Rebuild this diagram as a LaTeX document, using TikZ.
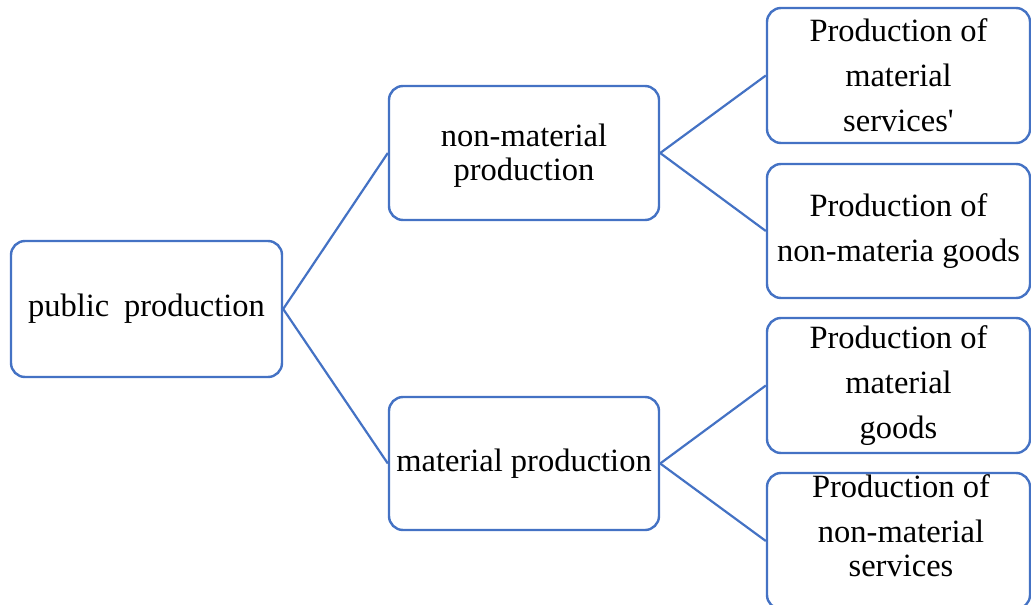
\documentclass[tikz,border=0pt]{standalone}
\usepackage{fontspec}
\setmainfont{Liberation Serif}
\definecolor{boxblue}{HTML}{4472C4}
\tikzset{
  boxtext/.style={inner sep=0pt, align=center, font=\fontsize{32.5}{34}\selectfont},
  box/.style={draw=boxblue, line width=2.4pt, rounded corners=14pt, fill=white, boxtext},
  link/.style={draw=boxblue, line width=2.2pt}
}
\begin{document}
\begin{tikzpicture}[x=1pt,y=-1pt]
\useasboundingbox (0,0) rectangle (1031,605);
\node[box, minimum width=271pt, minimum height=136pt] (pub) at (146.5,309) {public\hspace{0.45em}production};
\node[box, minimum width=270pt, minimum height=134pt] (nm) at (524,153) {};
\node[boxtext] (nmt) at (524,156) {non-material\\production};
\node[box, minimum width=270pt, minimum height=133pt] (mp) at (524,463.5) {material production};
\node[box, minimum width=263pt, minimum height=135pt] (r1) at (898.5,75.5) {Production of\\[11pt]material\\[11pt]services\textquotesingle};
\node[box, minimum width=263pt, minimum height=134pt] (r2) at (898.5,231) {Production of\\[11pt]non-materia goods};
\node[box, minimum width=263pt, minimum height=135pt] (r3) at (898.5,385.5) {Production of\\[11pt]material\\[11pt]goods};
\node[box, minimum width=263pt, minimum height=136pt] (r4) at (898.5,541) {};
\node[boxtext] (t4) at (901,526) {Production of\\[11pt]non-material\\services};
\draw[link] (pub.east) -- (nm.west);
\draw[link] (pub.east) -- (mp.west);
\draw[link] (nm.east) -- (r1.west);
\draw[link] (nm.east) -- (r2.west);
\draw[link] (mp.east) -- (r3.west);
\draw[link] (mp.east) -- (r4.west);
\end{tikzpicture}
\end{document}
